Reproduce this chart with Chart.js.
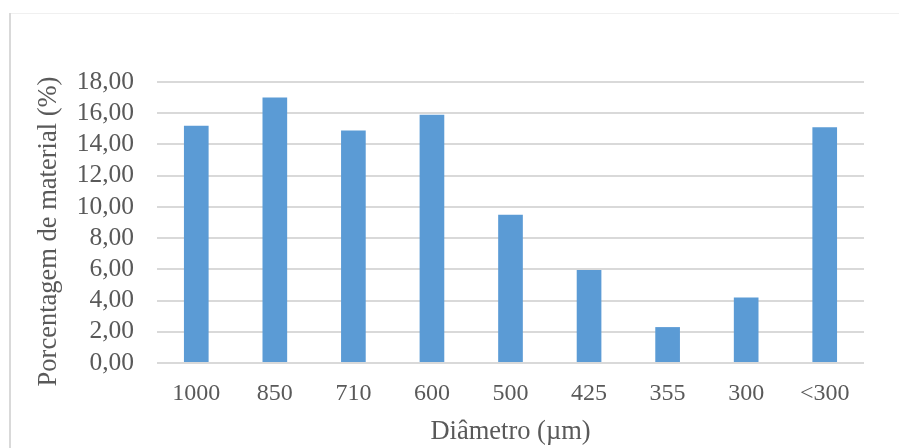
<!DOCTYPE html>
<html>
<head>
<meta charset="utf-8">
<style>
  html, body { margin: 0; padding: 0; background: #ffffff; }
  #wrap { position: relative; width: 899px; height: 448px; }
</style>
<script src="https://cdn.jsdelivr.net/npm/chart.js@4.4.1/dist/chart.umd.min.js"></script>
</head>
<body>
<div id="wrap"><canvas id="chart" width="899" height="448"></canvas></div>
<script>
// Particle size classes (sieve opening, µm) and retained material (%)
const diametros = ['1000', '850', '710', '600', '500', '425', '355', '300', '<300'];
const porcentagens = [15.2, 17.0, 14.9, 15.9, 9.5, 5.95, 2.3, 4.2, 15.1];
const yTickValues = [0, 2, 4, 6, 8, 10, 12, 14, 16, 18];
const yAxisTitle = 'Porcentagem de material (%)';
const xAxisTitle = 'Diâmetro (µm)';

const textColor = '#595959';
const gridColor = '#d9d9d9';
const serif = '"Liberation Serif", "Times New Roman", serif';

// Light outer frame of the chart object
const framePlugin = {
  id: 'frame',
  beforeDraw(chart) {
    const ctx = chart.ctx;
    ctx.save();
    ctx.fillStyle = '#ffffff';
    ctx.fillRect(0, 0, chart.width, chart.height);
    ctx.strokeStyle = '#f0f0f0';
    ctx.lineWidth = 1;
    ctx.beginPath();
    ctx.moveTo(10, 13.5);
    ctx.lineTo(chart.width, 13.5);
    ctx.stroke();
    ctx.strokeStyle = '#d9d9d9';
    ctx.lineWidth = 2;
    ctx.beginPath();
    ctx.moveTo(10, 13);
    ctx.lineTo(10, chart.height);
    ctx.stroke();
    ctx.restore();
  }
};

// Vertical value-axis title, centred a little below the plot's middle
const yTitlePlugin = {
  id: 'yTitle',
  afterDraw(chart) {
    const ctx = chart.ctx;
    ctx.save();
    ctx.translate(49, 231.5);
    ctx.rotate(-Math.PI / 2);
    ctx.fillStyle = textColor;
    ctx.font = '26.5px ' + serif;
    ctx.textAlign = 'center';
    ctx.textBaseline = 'middle';
    ctx.fillText(yAxisTitle, 0, 0);
    ctx.restore();
  }
};

new Chart(document.getElementById('chart'), {
  type: 'bar',
  data: {
    labels: diametros,
    datasets: [{
      data: porcentagens,
      backgroundColor: '#5b9bd5',
      borderWidth: 0,
      categoryPercentage: 1.0,
      barPercentage: 0.314
    }]
  },
  options: {
    responsive: false,
    animation: false,
    devicePixelRatio: 1,
    layout: { padding: { top: 82, right: 35, bottom: 0, left: 0 } },
    plugins: {
      legend: { display: false },
      tooltip: { enabled: false }
    },
    scales: {
      x: {
        grid: { display: false, drawTicks: false },
        border: { display: false },
        ticks: {
          color: textColor,
          font: { family: serif, size: 24 },
          padding: 16,
          maxRotation: 0,
          autoSkip: false
        },
        title: {
          display: true,
          text: xAxisTitle,
          color: textColor,
          font: { family: serif, size: 26.5 },
          padding: { top: 2, bottom: 0 }
        },
        afterFit(scale) { scale.height = 448 - 363; }
      },
      y: {
        min: 0,
        max: 18,
        afterBuildTicks(scale) {
          scale.ticks = yTickValues.map(v => ({ value: v }));
        },
        grid: { color: gridColor, lineWidth: 2, drawTicks: false },
        border: { display: false },
        ticks: {
          color: textColor,
          font: { family: serif, size: 25.5 },
          padding: 23,
          autoSkip: false,
          callback: v => v.toFixed(2).replace('.', ',')
        },
        afterFit(scale) { scale.width = 157; }
      }
    }
  },
  plugins: [framePlugin, yTitlePlugin]
});
</script>
</body>
</html>
